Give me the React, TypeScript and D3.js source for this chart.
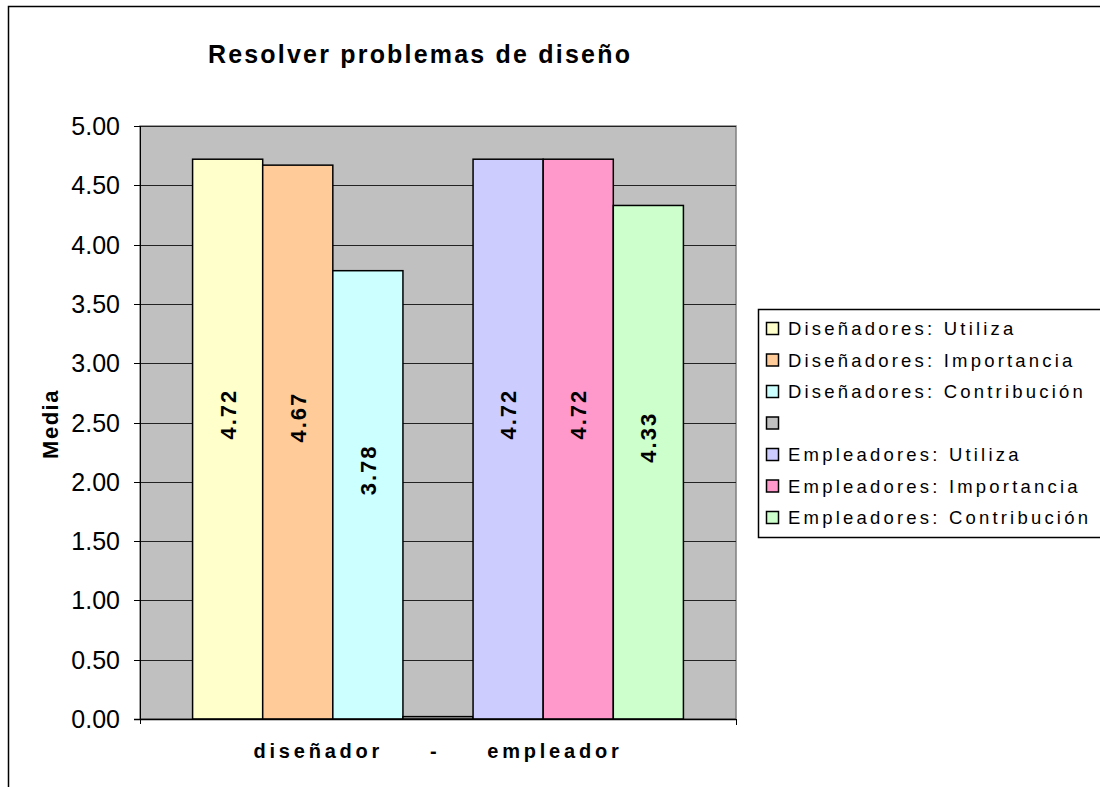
import React from "react";
import * as d3 from "d3";

// datos del grafico
const categoria = "diseñador     -     empleador";
const series = [
  "Diseñadores: Utiliza",
  "Diseñadores: Importancia",
  "Diseñadores: Contribución",
  "",
  "Empleadores: Utiliza",
  "Empleadores: Importancia",
  "Empleadores: Contribución",
];
const valores = [4.72, 4.67, 3.78, 0.02, 4.72, 4.72, 4.33];
const etiquetas = ["4.72", "4.67", "3.78", "", "4.72", "4.72", "4.33"];
const colores = ["#FFFFCC", "#FFCC99", "#CCFFFF", "#C0C0C0", "#CCCCFF", "#FF99CC", "#CCFFCC"];
const ticks = [0, 0.5, 1, 1.5, 2, 2.5, 3, 3.5, 4, 4.5, 5];

const font = "'Liberation Sans', Arial, sans-serif";

const App = () => {
  const plot = { left: 140, top: 126, right: 736, bottom: 719 };

  const y = d3.scaleLinear().domain([0, 5]).range([plot.bottom, plot.top]);
  // una sola categoria, 7 barras, gap 150%
  const xCat = d3.scaleBand().domain([categoria]).range([plot.left, plot.right]);
  const bandW = xCat.bandwidth();
  const barW = bandW / (series.length + 1.5);
  const x = d3
    .scaleBand<number>()
    .domain(d3.range(series.length))
    .range([xCat(categoria)! + barW * 0.75, xCat(categoria)! + bandW - barW * 0.75]);

  const legend = { x: 758.5, y: 309.5, w: 360, h: 228, rowH: 31.5 };

  return (
    <svg width={1100} height={787} style={{ position: "absolute", left: 0, top: 0 }}>
      <rect x={0} y={0} width={1100} height={787} fill="#fff" />
      <rect x={8.5} y={6.5} width={1200} height={1000} fill="none" stroke="#000" strokeWidth={1.5} />

      <text x={420} y={63} textAnchor="middle" fontFamily={font} fontWeight="bold" fontSize={25} letterSpacing={2.2}>
        Resolver problemas de diseño
      </text>

      {/* area de trazado */}
      <rect
        x={plot.left}
        y={plot.top}
        width={plot.right - plot.left}
        height={plot.bottom - plot.top}
        fill="#C0C0C0"
        stroke="#808080"
        strokeWidth={1.5}
      />
      {ticks.slice(1).map((t) => (
        <line key={t} x1={plot.left} x2={plot.right} y1={Math.round(y(t)) + 0.5} y2={Math.round(y(t)) + 0.5} stroke="#222" strokeWidth={1} />
      ))}

      {/* barras */}
      {valores.map((v, i) => (
        <rect
          key={i}
          x={x(i)!}
          y={y(v)}
          width={x.bandwidth()}
          height={plot.bottom - y(v)}
          fill={colores[i]}
          stroke="#000"
          strokeWidth={1.5}
        />
      ))}
      {valores.map((v, i) =>
        etiquetas[i] ? (
          <text
            key={"l" + i}
            transform={`translate(${x(i)! + x.bandwidth() / 2 + 8},${(y(v) + plot.bottom) / 2 - 25}) rotate(-90)`}
            textAnchor="middle"
            fontFamily={font}
            fontWeight="bold"
            fontSize={22}
            letterSpacing={2}
          >
            {etiquetas[i]}
          </text>
        ) : null
      )}

      {/* ejes */}
      <line x1={plot.left + 0.5} x2={plot.left + 0.5} y1={plot.top} y2={plot.bottom + 5} stroke="#000" />
      <line x1={plot.left - 6} x2={plot.right} y1={plot.bottom + 0.5} y2={plot.bottom + 0.5} stroke="#000" strokeWidth={1.5} />
      <line x1={plot.right + 0.5} x2={plot.right + 0.5} y1={plot.bottom} y2={plot.bottom + 6} stroke="#000" />
      {ticks.map((t) => (
        <g key={"t" + t}>
          <line x1={plot.left - 6} x2={plot.left} y1={Math.round(y(t)) + 0.5} y2={Math.round(y(t)) + 0.5} stroke="#000" />
          <text x={120} y={y(t) + 9} textAnchor="end" fontFamily={font} fontSize={25}>
            {d3.format(".2f")(t)}
          </text>
        </g>
      ))}
      <text
        x={xCat(categoria)! + bandW / 2}
        y={758}
        textAnchor="middle"
        fontFamily={font}
        fontWeight="bold"
        fontSize={20}
        letterSpacing={3.8}
        style={{ whiteSpace: "pre" }}
      >
        {categoria}
      </text>
      <text transform="translate(58,424) rotate(-90)" textAnchor="middle" fontFamily={font} fontWeight="bold" fontSize={22} letterSpacing={1.5}>
        Media
      </text>

      {/* leyenda */}
      <rect x={legend.x} y={legend.y} width={legend.w} height={legend.h} fill="#fff" stroke="#000" strokeWidth={1.5} />
      {series.map((s, i) => {
        const cy = legend.y + 19 + i * legend.rowH;
        return (
          <g key={"lg" + i}>
            <rect x={766.5} y={cy - 6} width={12} height={12} fill={colores[i]} stroke="#000" strokeWidth={1.5} />
            <text x={788} y={cy + 6.5} fontFamily={font} fontSize={18.5} letterSpacing={3.2}>
              {s}
            </text>
          </g>
        );
      })}
    </svg>
  );
};

export default App;
